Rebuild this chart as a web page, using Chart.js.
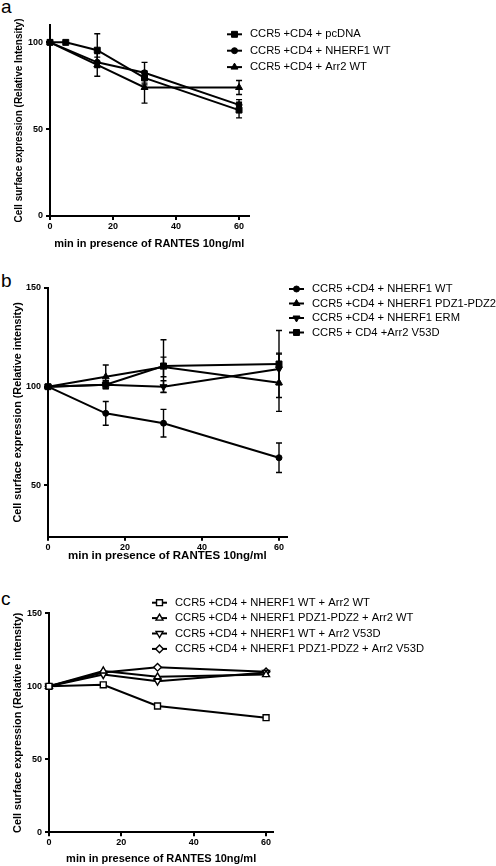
<!doctype html>
<html lang="en">
<head>
<meta charset="utf-8">
<title>CCR5 surface expression</title>
<script src="https://cdn.jsdelivr.net/npm/chart.js@4.4.0/dist/chart.umd.min.js"></script>
<style>
  body { margin: 0; background: #fff; width: 496px; height: 866px; position: relative; overflow: hidden;
         font-family: Arial, "Liberation Sans", Helvetica, sans-serif; }
  canvas { position: absolute; left: 0; }
  .tag { position: absolute; left: 1px; font-size: 19px; line-height: 1; color: #000; }
</style>
</head>
<body>
<div class="tag" style="top:-3px">a</div>
<canvas id="chartA" width="496" height="262" style="top:0"></canvas>
<div class="tag" style="top:271px">b</div>
<canvas id="chartB" width="496" height="300" style="top:270px"></canvas>
<div class="tag" style="top:589px">c</div>
<canvas id="chartC" width="496" height="286" style="top:580px"></canvas>

<script>
const FONT = 'Arial, "Liberation Sans", Helvetica, sans-serif';

// time points (min) and axis ticks
const minutes = [0, 15, 30, 60];
const minutesPcdna = [0, 5, 15, 30, 60];
const xTicks = [0, 20, 40, 60];
const xTitle = 'min in presence of RANTES 10ng/ml';

// panel a
const labelsA = ['CCR5 +CD4 + pcDNA', 'CCR5 +CD4 + NHERF1 WT', 'CCR5 +CD4 + Arr2 WT'];
const pcdnaA = [100, 100, 95.5, 79.5, 61];
const pcdnaErrA = [0, 0, 9.5, 4, 4.5];
const nherfA = [100, 88.5, 82.5, 64];
const nherfErrA = [0, 3, 6, 3];
const arrA = [100, 87, 74, 74];
const arrErrA = [0, 6.5, 9, 4];
const yTicksA = [0, 50, 100];

// panel b
const labelsB = ['CCR5 +CD4 + NHERF1 WT', 'CCR5 +CD4 + NHERF1 PDZ1-PDZ2', 'CCR5 +CD4 + NHERF1 ERM', 'CCR5 + CD4 +Arr2 V53D'];
const nherfB = [100, 86.5, 81.5, 64];
const nherfErrB = [0, 6, 7, 7.5];
const pdzB = [100, 105, 110, 102];
const pdzErrB = [0, 6, 5, 14.5];
const ermB = [100, 101, 100, 109];
const ermErrB = [0, 2, 3, 8];
const v53dB = [100, 101, 110.5, 111.5];
const v53dErrB = [0, 2, 13.3, 17];
const yTicksB = [50, 100, 150];

// panel c
const labelsC = ['CCR5 +CD4 + NHERF1 WT + Arr2 WT', 'CCR5 +CD4 + NHERF1 PDZ1-PDZ2 + Arr2 WT',
                 'CCR5 +CD4 + NHERF1 WT + Arr2 V53D', 'CCR5 +CD4 + NHERF1 PDZ1-PDZ2 + Arr2 V53D'];
const wtWtC = [100, 101, 86.5, 78.5];
const pdzWtC = [100, 110.5, 106.5, 108];
const wtV53dC = [100, 108, 103.5, 109.5];
const pdzV53dC = [100, 109.5, 113, 110];
const yTicksC = [0, 50, 100, 150];

const radii = { rect: 4.2, circle: 3, triangle: 4, rectRot: 3.8 };

function series(label, xs, ys, errs, style, rot, open) {
  return {
    label: label,
    data: xs.map((x, i) => ({ x: x, y: ys[i] })),
    errors: errs,
    borderColor: '#000',
    backgroundColor: open ? '#fff' : '#000',
    borderWidth: 2,
    pointStyle: style,
    pointRotation: rot,
    pointRadius: radii[style],
    pointBorderWidth: open ? 1.4 : 1,
    pointBackgroundColor: open ? '#fff' : '#000',
    pointBorderColor: '#000',
    tension: 0,
    clip: false
  };
}

const errorBars = {
  id: 'errorBars',
  afterDatasetsDraw(chart) {
    const ctx = chart.ctx, xs = chart.scales.x, ys = chart.scales.y;
    ctx.save();
    ctx.strokeStyle = '#000';
    ctx.lineWidth = 1.4;
    chart.data.datasets.forEach(ds => {
      if (!ds.errors) return;
      ds.data.forEach((p, i) => {
        const e = ds.errors[i];
        if (!e) return;
        const x = xs.getPixelForValue(p.x);
        const top = ys.getPixelForValue(p.y + e);
        const bot = ys.getPixelForValue(p.y - e);
        ctx.beginPath();
        ctx.moveTo(x, top); ctx.lineTo(x, bot);
        ctx.moveTo(x - 3, top); ctx.lineTo(x + 3, top);
        ctx.moveTo(x - 3, bot); ctx.lineTo(x + 3, bot);
        ctx.stroke();
      });
    });
    ctx.restore();
  }
};

// legend drawn beside/over the plot like the original figure
const sideLegend = {
  id: 'sideLegend',
  afterDraw(chart, args, opts) {
    const ctx = chart.ctx;
    ctx.save();
    ctx.font = opts.size + 'px ' + FONT;
    ctx.textBaseline = 'middle';
    chart.data.datasets.forEach((ds, i) => {
      const y = opts.y + i * opts.gap;
      ctx.strokeStyle = '#000';
      ctx.lineWidth = 2;
      ctx.beginPath();
      ctx.moveTo(opts.x, y);
      ctx.lineTo(opts.x + 15, y);
      ctx.stroke();
      ctx.fillStyle = ds.pointBackgroundColor;
      ctx.lineWidth = ds.pointBorderWidth;
      Chart.helpers.drawPoint(ctx, {
        pointStyle: ds.pointStyle, rotation: ds.pointRotation,
        radius: ds.pointRadius, borderWidth: ds.pointBorderWidth
      }, opts.x + 7.5, y);
      ctx.fillStyle = '#000';
      ctx.fillText(ds.label, opts.x + 23, y);
    });
    ctx.restore();
  }
};

function makeChart(id, cfg) {
  const axisGrid = { drawOnChartArea: false, drawTicks: true, tickLength: 4, color: '#000', lineWidth: 2 };
  const axisBorder = { display: true, color: '#000', width: 2 };
  const tickFont = { family: FONT, size: 9, weight: 'bold' };
  return new Chart(document.getElementById(id), {
    type: 'line',
    data: { datasets: cfg.datasets },
    options: {
      responsive: false,
      animation: false,
      events: [],
      layout: { padding: { top: cfg.top, right: cfg.right, left: 0, bottom: 0 } },
      plugins: { legend: { display: false }, tooltip: { enabled: false }, sideLegend: cfg.legend },
      scales: {
        x: {
          type: 'linear', min: 0, max: cfg.xMax,
          afterBuildTicks: s => { s.ticks = xTicks.map(v => ({ value: v })); },
          afterFit: s => { s.height = cfg.xHeight; },
          grid: axisGrid, border: axisBorder,
          ticks: { color: '#000', font: tickFont, padding: 1, maxRotation: 0 },
          title: { display: true, text: xTitle, color: '#000',
                   font: { family: FONT, size: cfg.xTitleSize, weight: 'bold' },
                   padding: { top: 0, bottom: cfg.xTitlePad } }
        },
        y: {
          type: 'linear', min: cfg.yMin, max: cfg.yMax,
          afterBuildTicks: s => { s.ticks = cfg.yTicks.map(v => ({ value: v })); },
          afterFit: s => { s.width = cfg.left; },
          grid: axisGrid, border: axisBorder,
          ticks: { color: '#000', font: tickFont, padding: 3 },
          title: { display: true, text: cfg.yTitle, color: '#000',
                   font: { family: FONT, size: cfg.yTitleSize, weight: 'bold' },
                   padding: { top: cfg.yTitlePad, bottom: 0 } }
        }
      }
    },
    plugins: [errorBars, sideLegend]
  });
}

makeChart('chartA', {
  datasets: [
    series(labelsA[0], minutesPcdna, pcdnaA, pcdnaErrA, 'rect', 0, false),
    series(labelsA[1], minutes, nherfA, nherfErrA, 'circle', 0, false),
    series(labelsA[2], minutes, arrA, arrErrA, 'triangle', 0, false)
  ],
  top: 25, right: 247.5, left: 50, xHeight: 46, xMax: 63,
  yMin: 0, yMax: 110, yTicks: yTicksA,
  yTitle: 'Cell surface expression (Relative Intensity)', yTitleSize: 10, yTitlePad: 13,
  xTitleSize: 11, xTitlePad: 11.4,
  legend: { x: 227, y: 34.3, gap: 16.4, size: 11.2 }
});

makeChart('chartB', {
  datasets: [
    series(labelsB[0], minutes, nherfB, nherfErrB, 'circle', 0, false),
    series(labelsB[1], minutes, pdzB, pdzErrB, 'triangle', 0, false),
    series(labelsB[2], minutes, ermB, ermErrB, 'triangle', 180, false),
    series(labelsB[3], minutes, v53dB, v53dErrB, 'rect', 0, false)
  ],
  top: 18, right: 209.3, left: 48, xHeight: 33.3, xMax: 62,
  yMin: 24, yMax: 150, yTicks: yTicksB,
  yTitle: 'Cell surface expression (Relative intensity)', yTitleSize: 10.8, yTitlePad: 11.9,
  xTitleSize: 11.5, xTitlePad: 7.4,
  legend: { x: 289, y: 19, gap: 14.5, size: 11.2 }
});

makeChart('chartC', {
  datasets: [
    series(labelsC[0], minutes, wtWtC, null, 'rect', 0, true),
    series(labelsC[1], minutes, pdzWtC, null, 'triangle', 0, true),
    series(labelsC[2], minutes, wtV53dC, null, 'triangle', 180, true),
    series(labelsC[3], minutes, pdzV53dC, null, 'rectRot', 0, true)
  ],
  top: 33.3, right: 222.7, left: 49, xHeight: 33.7, xMax: 62,
  yMin: 0, yMax: 150, yTicks: yTicksC,
  yTitle: 'Cell surface expression (Relative intensity)', yTitleSize: 10.8, yTitlePad: 11.9,
  xTitleSize: 11, xTitlePad: 0,
  legend: { x: 152, y: 22.7, gap: 15.4, size: 11.2 }
});
</script>
</body>
</html>
